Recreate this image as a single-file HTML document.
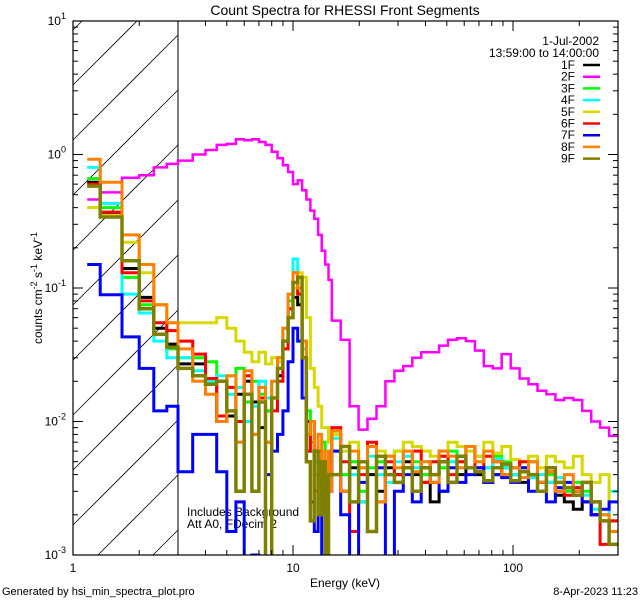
<!DOCTYPE html>
<html><head><meta charset="utf-8"><style>
html,body{margin:0;padding:0;background:#fff;width:640px;height:600px;overflow:hidden;}
svg{display:block;font-family:"Liberation Sans",sans-serif;overflow:hidden;}
</style></head><body>
<svg id="chart" width="640" height="600" viewBox="0 0 640 600">
<text x="345" y="15" text-anchor="middle" font-size="14">Count Spectra for RHESSI Front Segments</text>
<text x="345" y="587" text-anchor="middle" font-size="12">Energy (keV)</text>
<text transform="translate(42,288) rotate(-90)" text-anchor="middle" font-size="12">counts cm<tspan dy="-5" font-size="9">-2</tspan><tspan dy="5"> s</tspan><tspan dy="-5" font-size="9">-1</tspan><tspan dy="5"> keV</tspan><tspan dy="-5" font-size="9">-1</tspan></text>
<text x="2" y="595" font-size="11">Generated by hsi_min_spectra_plot.pro</text>
<text x="638" y="595" text-anchor="end" font-size="11">8-Apr-2023 11:23</text>
<text x="187" y="516" font-size="12">Includes Background</text>
<text x="187" y="528" font-size="12">Att A0, FDecim 2</text>
<g id="legend">
<text x="599" y="45" text-anchor="end" font-size="12">1-Jul-2002</text>
<text x="599" y="57" text-anchor="end" font-size="12">13:59:00 to 14:00:00</text>
</g>
</svg>
<script>
const lowEdges=[1.16,1.33,1.67,2.0,2.33,2.67,3.0];
const segNames=["1F","2F","3F","4F","5F","6F","7F","8F","9F"];
const segColors=["#000000","#ff00ff","#00ff00","#00ffff","#d8d800","#ff0000","#0000ff","#ff8000","#808000"];
const s1F=[0.62,0.36,0.14,0.085,0.05,0.038, 0.027,0.027,0.019,0.01,0.011,0.016,0.02,0.014,0.009,0.012,0.015,0.022,0.04,0.07,0.085,0.075,0.03,0.01,0.006,0.004,0.005,0.003,0.005,0.004, 0.006,0.003,0.0045,0.0025,0.004,0.003,0.0045,0.004,0.005,0.004,0.0035,0.0025,0.003,0.0035,0.004,0.0045,0.004,0.0035,0.004,0.0045,0.004,0.0035,0.004,0.003,0.0035,0.0028,0.0025,0.0022,0.0025,0.002,0.0018,0.0015];
const s2F=[0.46,0.52,0.67,0.7,0.8,0.85, 0.9,1.0,1.08,1.18,1.2,1.3,1.28,1.3,1.24,1.18,1.05,0.94,0.83,0.74,0.6,0.64,0.54,0.46,0.38,0.33,0.25,0.19,0.15,0.115, 0.057,0.041,0.013,0.0087,0.0105,0.013,0.02,0.024,0.026,0.03,0.033,0.033,0.037,0.041,0.042,0.04,0.034,0.026,0.025,0.032,0.025,0.021,0.019,0.017,0.016,0.0145,0.015,0.0145,0.012,0.01,0.009,0.0078];
const s3F=[0.66,0.40,0.12,0.075,0.045,0.035, 0.03,0.03,0.028,0.02,0.018,0.025,0.014,0.02,0.016,0.012,0.02,0.03,0.05,0.08,0.1,0.09,0.04,0.012,0.007,0.006,0.005,0.007,0.006,0.005, 0.008,0.004,0.005,0.003,0.0045,0.005,0.004,0.006,0.0045,0.005,0.004,0.005,0.0045,0.006,0.005,0.0065,0.005,0.0045,0.0055,0.005,0.004,0.0045,0.005,0.0035,0.004,0.0035,0.003,0.0035,0.003,0.0025,0.002,0.0018];
const s4F=[0.80,0.43,0.09,0.065,0.040,0.030, 0.03,0.024,0.02,0.022,0.016,0.018,0.01,0.013,0.02,0.015,0.02,0.028,0.05,0.09,0.165,0.1,0.035,0.008,0.006,0.005,0.0045,0.005,0.004,0.005, 0.0075,0.005,0.004,0.0025,0.0055,0.004,0.0035,0.005,0.0055,0.0045,0.005,0.004,0.0055,0.005,0.0045,0.006,0.0055,0.0045,0.0052,0.0045,0.004,0.0045,0.0038,0.004,0.0035,0.0038,0.0032,0.003,0.0028,0.0022,0.002,0.003];
const s5F=[0.40,0.35,0.22,0.13,0.075,0.048, 0.055,0.055,0.055,0.06,0.05,0.04,0.033,0.028,0.033,0.027,0.03,0.028,0.04,0.06,0.1,0.13,0.12,0.06,0.025,0.018,0.013,0.009,0.009,0.007, 0.008,0.006,0.007,0.0045,0.0065,0.006,0.0055,0.006,0.007,0.0065,0.006,0.0055,0.006,0.007,0.0065,0.006,0.0055,0.007,0.0058,0.0065,0.0052,0.005,0.0055,0.0045,0.0055,0.005,0.0045,0.0055,0.004,0.0035,0.004,0.0025];
const s6F=[0.60,0.37,0.13,0.08,0.055,0.048, 0.04,0.032,0.021,0.011,0.018,0.01,0.022,0.008,0.015,0.007,0.012,0.02,0.035,0.07,0.11,0.09,0.03,0.006,0.01,0.003,0.006,0.002,0.004,0.005, 0.009,0.005,0.0015,0.004,0.007,0.0025,0.005,0.004,0.0045,0.006,0.0035,0.005,0.0055,0.004,0.005,0.0065,0.0045,0.0055,0.005,0.004,0.0045,0.005,0.004,0.0035,0.0042,0.003,0.0028,0.0032,0.0025,0.002,0.0012,0.0018];
const s7F=[0.15,0.089,0.043,0.025,0.012,0.013, 0.0042,0.008,0.008,0.0042,0.0015,0.0025,0.0008,0.001,0.0008,0.004,0.006,0.008,0.012,0.028,0.05,0.04,0.015,0.005,0.0025,0.0015,0.004,0.0009,0.004,0.003, 0.006,0.002,0.0009,0.0035,0.0015,0.0045,0.0008,0.003,0.004,0.0025,0.0045,0.0035,0.003,0.0045,0.0035,0.004,0.0045,0.0035,0.004,0.0038,0.0035,0.0045,0.003,0.0035,0.0025,0.0032,0.0035,0.003,0.0025,0.002,0.0022,0.0025];
const s8F=[0.92,0.62,0.25,0.15,0.075,0.055, 0.035,0.02,0.016,0.01,0.022,0.007,0.024,0.008,0.018,0.007,0.02,0.03,0.05,0.09,0.13,0.1,0.04,0.008,0.01,0.004,0.008,0.002,0.006,0.003, 0.0085,0.003,0.006,0.0045,0.0065,0.0025,0.0055,0.0045,0.006,0.0042,0.005,0.0035,0.006,0.0055,0.0045,0.0065,0.005,0.006,0.005,0.004,0.0045,0.0038,0.005,0.0035,0.0042,0.003,0.004,0.003,0.0035,0.0025,0.002,0.0015];
const s9F=[0.58,0.34,0.16,0.07,0.045,0.036, 0.025,0.022,0.019,0.02,0.012,0.003,0.016,0.003,0.014,0.0009,0.015,0.025,0.04,0.06,0.11,0.12,0.03,0.005,0.0018,0.006,0.002,0.005,0.0009,0.004, 0.004,0.0065,0.0025,0.005,0.0015,0.0055,0.004,0.0035,0.0045,0.003,0.0045,0.004,0.005,0.0035,0.0055,0.0045,0.0042,0.0036,0.0045,0.0048,0.0036,0.0042,0.004,0.003,0.0045,0.0035,0.0032,0.0028,0.0035,0.0025,0.0018,0.0012];
const seriesValues=[s1F,s2F,s3F,s4F,s5F,s6F,s7F,s8F,s9F];
const xTickLabels=["1","10","100"];
const yTickExps=["1","0","-1","-2","-3"];
const xMin=1,xMax=300,yMin=1e-3,yMax=10;

const NS="http://www.w3.org/2000/svg";
const svg=document.getElementById('chart');
const L=73,R=618,T=21,B=555;
function xs(e){return L+(Math.log10(e)-Math.log10(xMin))/(Math.log10(xMax)-Math.log10(xMin))*(R-L);}
function ys(v){return B-(Math.log10(v)-Math.log10(yMin))/(Math.log10(yMax)-Math.log10(yMin))*(B-T);}
function mk(tag,attrs,parent){const el=document.createElementNS(NS,tag);for(const k in attrs)el.setAttribute(k,attrs[k]);(parent||svg).appendChild(el);return el;}

const edges=lowEdges.slice();
for(let k=1;k<=24;k++)edges.push(3+0.5*k);
for(let k=1;k<=32;k++)edges.push(15*Math.pow(20,k/32));

const defs=mk('defs',{});
const cp=mk('clipPath',{id:'plotclip'},defs);
mk('rect',{x:L,y:T,width:R-L,height:B-T},cp);

const X3=xs(3);
const hatch=mk('g',{});


for(let c=30;c<B+(X3-L);c+=55){
  const xa=Math.max(L,L+c-B), xb=Math.min(X3,L+c-T);
  if(xb<=xa)continue;
  mk('line',{x1:xa,y1:c-(xa-L),x2:xb,y2:c-(xb-L),stroke:'#000','stroke-width':0.8},hatch);
}
const vl=mk('line',{x1:X3,y1:T,x2:X3,y2:B,stroke:'#000','stroke-width':1});



const sg=mk('g',{'clip-path':'url(#plotclip)'});
seriesValues.forEach((vals,i)=>{
  let d='';
  for(let b=0;b<vals.length;b++){
    const x0=xs(edges[b]),x1=xs(edges[b+1]);
    const y=Math.min(ys(Math.max(vals[b],1e-4)),B+3);
    d+=(b===0?'M':'L')+x0.toFixed(1)+','+y.toFixed(1)+'L'+x1.toFixed(1)+','+y.toFixed(1);
  }
  const p=mk('path',{d:d,fill:'none',stroke:segColors[i],'stroke-width':i===8?3.5:(i===1?2.5:3),'stroke-linejoin':'miter'},sg);
  
  
});

const box=mk('rect',{x:L,y:T,width:R-L,height:B-T,fill:'none',stroke:'#000','stroke-width':1.2});



for(let dec=0;dec<3;dec++){
  for(let m=1;m<10;m++){
    const e=Math.pow(10,dec)*m; if(e>xMax)break;
    const x=xs(e), len=m===1?10:5;
    mk('line',{x1:x,y1:B,x2:x,y2:B-len,stroke:'#000'});
    mk('line',{x1:x,y1:T,x2:x,y2:T+len,stroke:'#000'});
  }
}
xTickLabels.forEach((lab,i)=>{
  const t=mk('text',{x:xs(Math.pow(10,i)),y:572,'text-anchor':'middle','font-size':12});
  t.textContent=lab;
  
  
});
for(let dec=-3;dec<1;dec++){
  for(let m=1;m<10;m++){
    const v=Math.pow(10,dec)*m, y=ys(v), len=m===1?10:5;
    mk('line',{x1:L,y1:y,x2:L+len,y2:y,stroke:'#000'});
    mk('line',{x1:R,y1:y,x2:R-len,y2:y,stroke:'#000'});
  }
}
mk('line',{x1:L,y1:T,x2:L+10,y2:T,stroke:'#000'});
yTickExps.forEach(ex=>{
  const y=ys(Math.pow(10,+ex));
  const t=mk('text',{x:66,y:y+4,'text-anchor':'end','font-size':12});
  t.innerHTML='10<tspan dy="-6" font-size="9">'+ex+'</tspan>';
  
  
});

const lg=document.getElementById('legend');
segNames.forEach((n,i)=>{
  const y=65+i*11.7;
  const g=mk('g',{},lg);
  
  
  const t=mk('text',{x:575,y:y+4,'text-anchor':'end','font-size':12},g);
  t.textContent=n;
  mk('line',{x1:583,y1:y,x2:600,y2:y,stroke:segColors[i],'stroke-width':2.5},g);
});
</script>
</body></html>
